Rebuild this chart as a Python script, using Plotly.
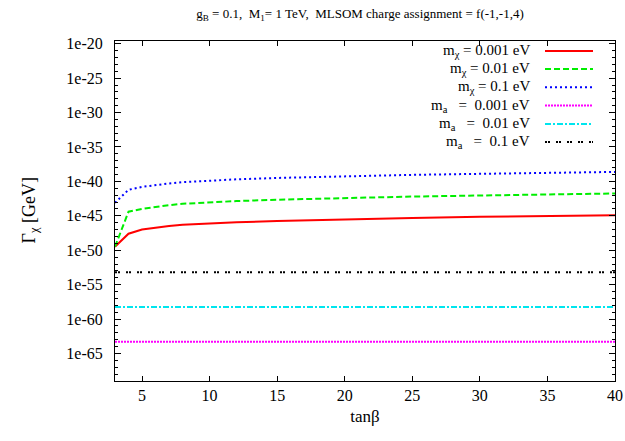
import plotly.graph_objects as go

# ---- data ----
tanb = [3, 4, 5, 6, 7, 8, 10, 12, 15, 20, 25, 30, 35, 40]
gamma_mchi_0001 = [3.2e-50, 2.5e-48, 1.0e-47, 2.0e-47, 3.2e-47, 5.0e-47, 7.9e-47,
                   1.12e-46, 1.78e-46, 3.2e-46, 5.0e-46, 7.1e-46, 9.3e-46, 1.2e-45]
gamma_mchi_001 = [3.2e-50, 4.0e-45, 1.0e-44, 2.0e-44, 3.5e-44, 5.6e-44, 1.0e-43,
                  1.4e-43, 2.2e-43, 4.0e-43, 6.3e-43, 8.9e-43, 1.26e-42, 1.78e-42]
gamma_mchi_01 = [7.9e-44, 6.0e-42, 1.6e-41, 3.2e-41, 5.0e-41, 7.9e-41, 1.4e-40,
                 2.0e-40, 3.2e-40, 5.6e-40, 8.9e-40, 1.26e-39, 1.78e-39, 2.4e-39]
tanb_flat = [3, 40]
gamma_ma_0001 = 5.0e-64
gamma_ma_001 = 5.6e-59
gamma_ma_01 = 6.3e-54

series_labels = [
    "m<sub>χ</sub> = 0.001 eV",
    "m<sub>χ</sub> = 0.01 eV",
    "m<sub>χ</sub> = 0.1 eV",
    "m<sub>a</sub>\u00a0\u00a0\u00a0=\u00a0\u00a00.001 eV",
    "m<sub>a</sub>\u00a0\u00a0\u00a0=\u00a0\u00a00.01 eV",
    "m<sub>a</sub>\u00a0\u00a0\u00a0=\u00a0\u00a00.1 eV",
]
ytick_exps = list(range(-20, -66, -5))
ytick_vals = [10.0 ** e for e in ytick_exps]
ytick_text = ["1e%d" % e for e in ytick_exps]
yminor_vals = [10.0 ** -k for k in range(19, 70) if k % 5 != 0]
xtick_vals = [5, 10, 15, 20, 25, 30, 35, 40]

# ---- styles ----
colors = ["#ff0000", "#00ee00", "#0000ff", "#ff00ff", "#00e5ee", "#000000"]
dashes = ["solid", "6px,3px", "2px,3px", "2px,1px", "6px,2px,2px,2px", "2px,1px,2px,6px"]
FONT = "Liberation Serif, Times New Roman, serif"

fig = go.Figure()
ys = [gamma_mchi_0001, gamma_mchi_001, gamma_mchi_01,
      [gamma_ma_0001] * 2, [gamma_ma_001] * 2, [gamma_ma_01] * 2]
xs = [tanb, tanb, tanb, tanb_flat, tanb_flat, tanb_flat]
for x, y, c, d, name in zip(xs, ys, colors, dashes, series_labels):
    fig.add_trace(go.Scatter(x=x, y=y, mode="lines", name=name,
                             line=dict(color=c, width=2, dash=d),
                             showlegend=False, hoverinfo="skip"))

# custom gnuplot-style legend (text left, sample right)
row_y = [0.9705, 0.918, 0.864, 0.810, 0.7556, 0.703]
for ry, c, d, name in zip(row_y, colors, dashes, series_labels):
    fig.add_annotation(x=0.833, y=ry, xref="paper", yref="paper", text=name,
                       showarrow=False, xanchor="right", yanchor="middle",
                       font=dict(family=FONT, size=15, color="black"))
    fig.add_shape(type="line", xref="paper", yref="paper", x0=0.860, x1=0.956,
                  y0=ry, y1=ry, line=dict(color=c, width=2, dash=d))

fig.add_annotation(x=-0.171, y=0.5, xref="paper", yref="paper",
                   text="Γ<sub>χ</sub> [GeV]", textangle=-90, showarrow=False,
                   xanchor="center", yanchor="middle",
                   font=dict(family=FONT, size=18, color="black"))

fig.update_layout(
    width=625, height=441, autosize=False,
    margin=dict(l=115, r=10, t=41, b=60, autoexpand=False),
    paper_bgcolor="white", plot_bgcolor="white",
    font=dict(family=FONT, size=16, color="black"),
    title=dict(text="g<sub>B</sub> = 0.1,  M<sub>1</sub>= 1 TeV,  MLSOM charge assignment = f(-1,-1,4)",
               x=0.49, xref="paper", xanchor="center", y=0.97, yanchor="middle",
               font=dict(family=FONT, size=13, color="black")),
    showlegend=False,
)
fig.update_xaxes(range=[3, 40], tickvals=xtick_vals, ticks="inside", ticklen=5,
                 tickcolor="black", showline=True, linecolor="black", linewidth=1,
                 mirror="ticks", showgrid=False, zeroline=False, automargin=False,
                 tickfont=dict(family=FONT, size=16),
                 title=dict(text="tanβ", font=dict(family=FONT, size=17), standoff=6))
fig.update_yaxes(type="log", range=[-69, -19.6], tickvals=ytick_vals, ticktext=ytick_text,
                 ticks="inside", ticklen=6, tickcolor="black", showline=True,
                 linecolor="black", linewidth=1, mirror="ticks", showgrid=False,
                 zeroline=False, ticklabelstandoff=8, automargin=False,
                 tickfont=dict(family=FONT, size=16),
                 minor=dict(tickvals=yminor_vals, ticks="inside", ticklen=3,
                            tickcolor="black", showgrid=False))

fig.write_html("out.html",
               config={"responsive": False, "displayModeBar": False, "staticPlot": True},
               post_script="document.body.style.margin='0';document.body.style.padding='0';"
                           "document.body.style.overflow='hidden';"
                           "document.documentElement.style.overflow='hidden';")
